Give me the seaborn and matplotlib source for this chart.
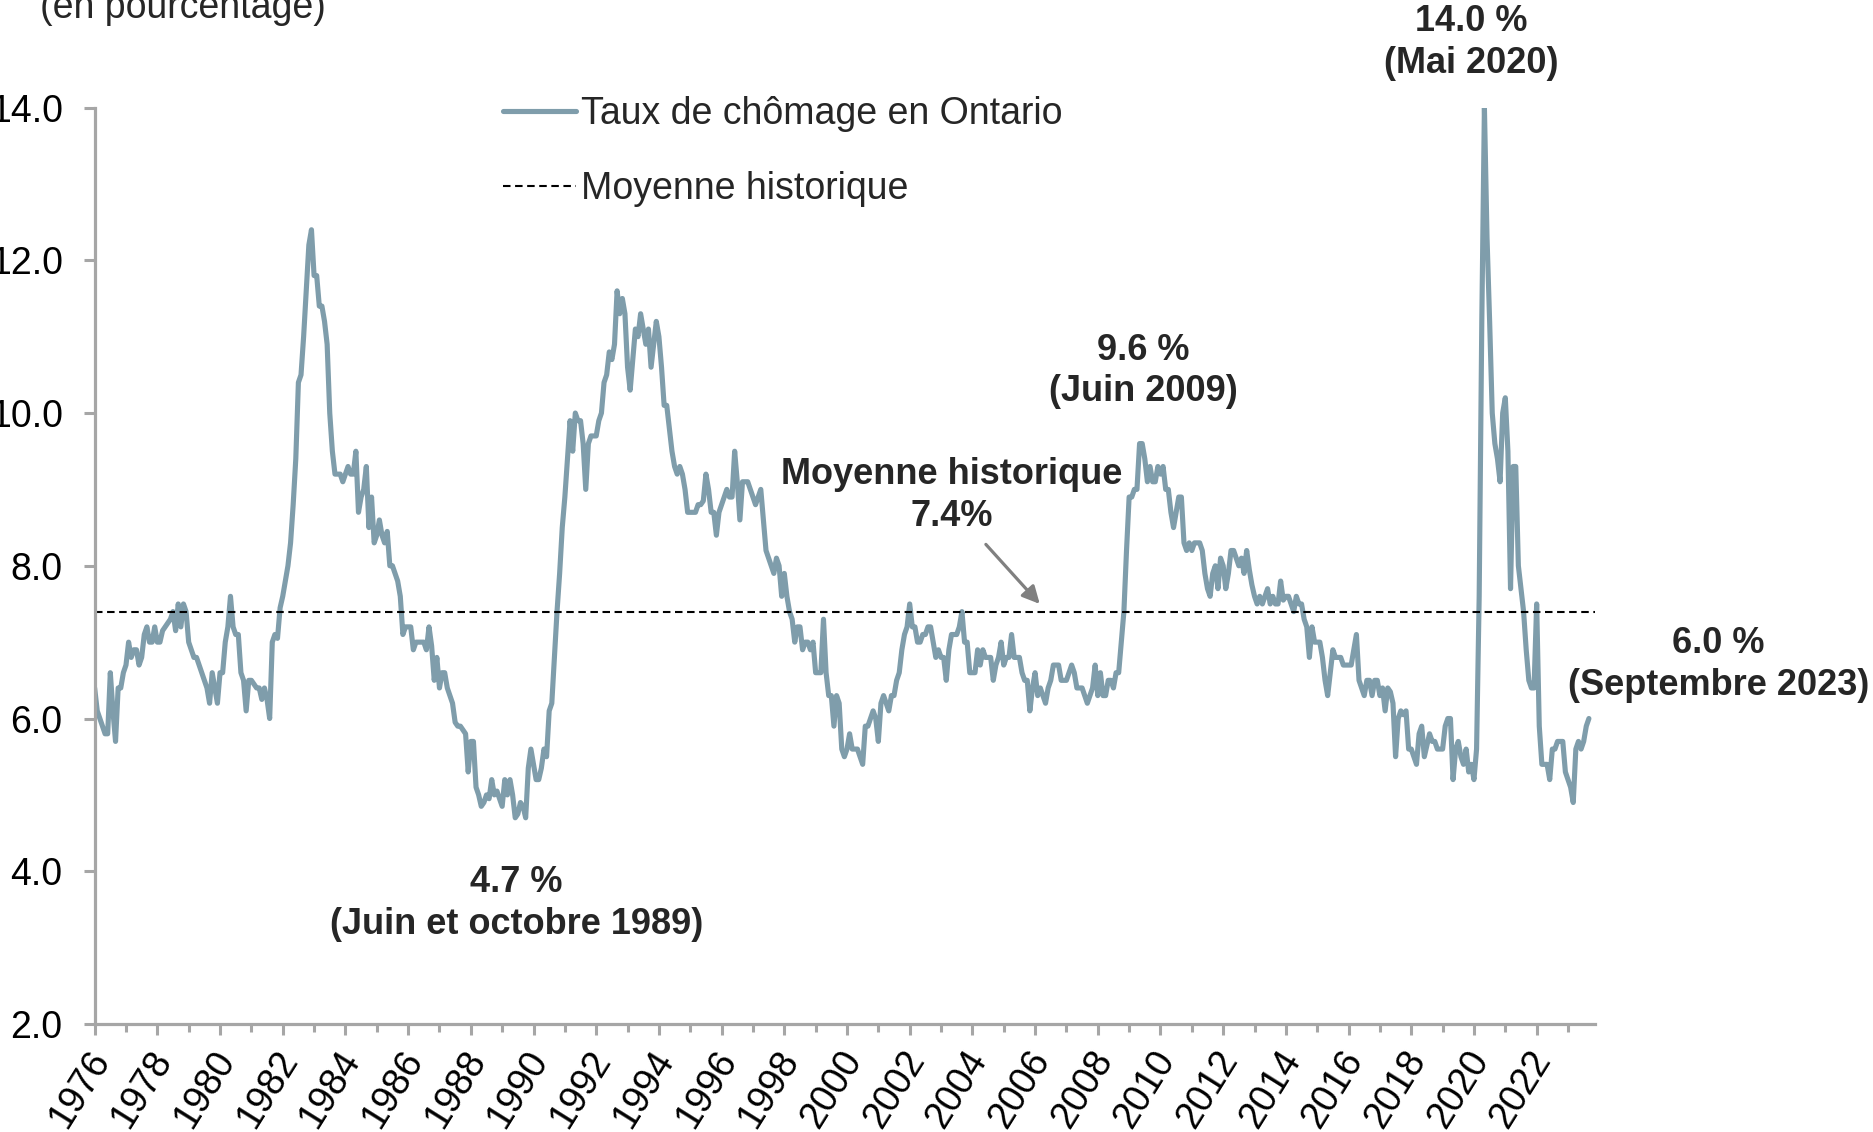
import numpy as np
import pandas as pd
import seaborn as sns
import matplotlib.pyplot as plt
from matplotlib.ticker import MultipleLocator, FormatStrFormatter
import matplotlib.transforms as mtransforms

sns.set_theme(style='ticks')
plt.rcParams['font.family'] = ['Liberation Sans', 'DejaVu Sans']

# taux de chômage mensuel en Ontario (%), janvier 1976 à septembre 2023
rates_1976_1985 = [
    6.4, 6.1, 6.0, 5.9, 5.8, 5.8, 6.6, 6.1, 5.7, 6.4, 6.4, 6.6,
    6.7, 7.0, 6.8, 6.9, 6.9, 6.7, 6.8, 7.1, 7.2, 7.0, 7.0, 7.2,
    7.0, 7.0, 7.15, 7.2, 7.25, 7.3, 7.4, 7.15, 7.5, 7.2, 7.5, 7.4,
    7.0, 6.9, 6.8, 6.8, 6.7, 6.6, 6.5, 6.4, 6.2, 6.6, 6.4, 6.2,
    6.6, 6.6, 7.0, 7.2, 7.6, 7.2, 7.1, 7.1, 6.6, 6.5, 6.1, 6.5,
    6.5, 6.45, 6.4, 6.4, 6.25, 6.4, 6.25, 6.0, 7.0, 7.1, 7.05, 7.45,
    7.6, 7.8, 8.0, 8.3, 8.8, 9.4, 10.4, 10.5, 11.0, 11.6, 12.2, 12.4,
    11.8, 11.8, 11.4, 11.4, 11.2, 10.9, 10.0, 9.5, 9.2, 9.2, 9.2, 9.1,
    9.2, 9.3, 9.2, 9.2, 9.5, 8.7, 8.9, 9.0, 9.3, 8.5, 8.9, 8.3,
    8.4, 8.6, 8.4, 8.3, 8.45, 8.0, 8.0, 7.9, 7.8, 7.6, 7.1, 7.2,
]
rates_1986_1995 = [
    7.2, 7.2, 6.9, 7.0, 7.0, 7.0, 7.0, 6.9, 7.2, 6.95, 6.5, 6.8,
    6.4, 6.6, 6.6, 6.4, 6.3, 6.2, 5.95, 5.9, 5.9, 5.85, 5.8, 5.3,
    5.7, 5.7, 5.1, 5.0, 4.85, 4.9, 5.0, 4.95, 5.2, 5.0, 5.05, 4.95,
    4.85, 5.2, 5.0, 5.2, 5.0, 4.7, 4.75, 4.9, 4.85, 4.7, 5.35, 5.6,
    5.4, 5.2, 5.2, 5.35, 5.6, 5.5, 6.1, 6.2, 6.8, 7.4, 7.9, 8.5,
    8.9, 9.4, 9.9, 9.5, 10.0, 9.9, 9.9, 9.6, 9.0, 9.6, 9.7, 9.7,
    9.7, 9.9, 10.0, 10.4, 10.5, 10.8, 10.7, 10.9, 11.6, 11.3, 11.5, 11.3,
    10.6, 10.3, 10.7, 11.1, 11.0, 11.3, 11.1, 10.9, 11.1, 10.6, 10.9, 11.2,
    11.0, 10.6, 10.1, 10.1, 9.8, 9.5, 9.3, 9.2, 9.3, 9.2, 9.0, 8.7,
    8.7, 8.7, 8.7, 8.8, 8.8, 8.85, 9.2, 9.0, 8.7, 8.7, 8.4, 8.7,
]
rates_1996_2005 = [
    8.8, 8.9, 9.0, 8.9, 8.9, 9.5, 9.1, 8.6, 9.1, 9.1, 9.1, 9.0,
    8.9, 8.8, 8.9, 9.0, 8.6, 8.2, 8.1, 8.0, 7.9, 8.1, 8.0, 7.6,
    7.9, 7.6, 7.4, 7.3, 7.0, 7.2, 7.2, 6.9, 7.0, 7.0, 6.9, 7.0,
    6.6, 6.6, 6.6, 7.3, 6.6, 6.3, 6.3, 5.9, 6.3, 6.2, 5.6, 5.5,
    5.6, 5.8, 5.6, 5.6, 5.6, 5.5, 5.4, 5.9, 5.9, 6.0, 6.1, 6.0,
    5.7, 6.2, 6.3, 6.2, 6.1, 6.3, 6.3, 6.5, 6.6, 6.9, 7.1, 7.2,
    7.5, 7.2, 7.2, 7.0, 7.0, 7.1, 7.1, 7.2, 7.2, 7.0, 6.8, 6.9,
    6.8, 6.8, 6.5, 6.9, 7.1, 7.1, 7.1, 7.2, 7.4, 7.0, 7.0, 6.6,
    6.6, 6.6, 6.9, 6.7, 6.9, 6.8, 6.8, 6.8, 6.5, 6.7, 6.8, 7.0,
    6.7, 6.8, 6.8, 7.1, 6.8, 6.8, 6.8, 6.6, 6.5, 6.5, 6.1, 6.4,
]
rates_2006_2015 = [
    6.6, 6.3, 6.4, 6.3, 6.2, 6.4, 6.5, 6.7, 6.7, 6.7, 6.5, 6.5,
    6.5, 6.6, 6.7, 6.6, 6.4, 6.4, 6.4, 6.3, 6.2, 6.3, 6.4, 6.7,
    6.3, 6.6, 6.3, 6.3, 6.5, 6.5, 6.4, 6.6, 6.6, 7.0, 7.4, 8.2,
    8.9, 8.9, 9.0, 9.0, 9.6, 9.6, 9.4, 9.1, 9.3, 9.1, 9.1, 9.3,
    9.2, 9.3, 9.0, 9.0, 8.7, 8.5, 8.7, 8.9, 8.9, 8.3, 8.2, 8.3,
    8.2, 8.3, 8.3, 8.3, 8.2, 7.9, 7.7, 7.6, 7.9, 8.0, 7.7, 8.1,
    8.0, 7.7, 7.9, 8.2, 8.2, 8.1, 8.0, 8.1, 7.9, 8.2, 7.95, 7.75,
    7.6, 7.5, 7.6, 7.5, 7.6, 7.7, 7.5, 7.6, 7.5, 7.5, 7.8, 7.55,
    7.6, 7.6, 7.5, 7.4, 7.6, 7.5, 7.5, 7.3, 7.2, 6.8, 7.2, 7.0,
    7.0, 7.0, 6.8, 6.5, 6.3, 6.6, 6.9, 6.8, 6.8, 6.8, 6.7, 6.7,
]
rates_2016_2023 = [
    6.7, 6.7, 6.9, 7.1, 6.5, 6.4, 6.3, 6.5, 6.5, 6.3, 6.5, 6.5,
    6.3, 6.4, 6.1, 6.4, 6.35, 6.2, 5.5, 6.0, 6.1, 6.05, 6.1, 5.6,
    5.6, 5.5, 5.4, 5.8, 5.9, 5.5, 5.65, 5.8, 5.7, 5.7, 5.6, 5.6,
    5.6, 5.9, 6.0, 6.0, 5.2, 5.6, 5.7, 5.5, 5.4, 5.6, 5.3, 5.4,
    5.2, 5.6, 7.6, 11.2, 14.0, 12.3, 11.2, 10.0, 9.6, 9.4, 9.1, 10.0,
    10.2, 9.5, 7.7, 9.3, 9.3, 8.0, 7.7, 7.4, 6.9, 6.5, 6.4, 6.4,
    7.5, 5.9, 5.4, 5.4, 5.4, 5.2, 5.6, 5.6, 5.7, 5.7, 5.7, 5.3,
    5.2, 5.1, 4.9, 5.6, 5.7, 5.6, 5.7, 5.9, 6.0,
]
start_year = 1976
average_rate = 7.4

series_label = 'Taux de chômage en Ontario'
average_label = 'Moyenne historique'
unit_label = '(en pourcentage)'

note_texts = ['14.0 %\n(Mai 2020)', '9.6 %\n(Juin 2009)', 'Moyenne historique\n7.4%',
              '4.7 %\n(Juin et octobre 1989)', '6.0 %\n(Septembre 2023)']
note_x = [2019.9, 2009.45, 2003.35, 1989.45, 2027.8]
note_y = [14.85, 10.55, 8.92, 3.58, 6.71]

rates = rates_1976_1985 + rates_1986_1995 + rates_1996_2005 + rates_2006_2015 + rates_2016_2023
df = pd.DataFrame({'annee': start_year + np.arange(len(rates)) / 12, 'taux': rates})

line_color = '#7f9dab'
axis_gray = '#a6a6a6'

fig = plt.figure(figsize=(18.74, 11.32), dpi=100)
ax = fig.add_axes([0.0505, 0.0954, 0.8006, 0.8096])

sns.lineplot(data=df, x='annee', y='taux', ax=ax, color=line_color, linewidth=3.7,
             label=series_label, solid_joinstyle='round', solid_capstyle='round')
ax.axhline(average_rate, color='black', linewidth=1.5, linestyle=(0, (3.6, 2.2)),
           label=average_label)

ax.set_xlim(start_year, 2023.86)
ax.set_ylim(2, 14)
ax.set_xlabel('')
ax.set_ylabel('')

sns.despine(ax=ax)
for side in ['left', 'bottom']:
    ax.spines[side].set_color(axis_gray)
    ax.spines[side].set_linewidth(2.3)

ax.yaxis.set_major_locator(MultipleLocator(2))
ax.yaxis.set_major_formatter(FormatStrFormatter('%.1f'))
ax.xaxis.set_major_locator(MultipleLocator(2))
ax.xaxis.set_minor_locator(MultipleLocator(1))
ax.xaxis.set_major_formatter(FormatStrFormatter('%d'))

ax.tick_params(axis='y', length=8, width=2.2, color=axis_gray, labelsize=27, pad=15,
               labelcolor='black')
ax.tick_params(axis='x', which='major', length=8, width=2.2, color=axis_gray,
               labelsize=27, pad=7, labelcolor='black')
ax.tick_params(axis='x', which='minor', length=5.5, width=2.2, color=axis_gray)

for lbl in ax.get_yticklabels():
    lbl.set_fontfamily(['Liberation Sans Narrow', 'Liberation Sans', 'DejaVu Sans'])
shift = mtransforms.ScaledTranslation(22 / 100, 0, fig.dpi_scale_trans)
for lbl in ax.get_xticklabels():
    lbl.set_rotation(58)
    lbl.set_ha('right')
    lbl.set_va('top')
    lbl.set_transform(lbl.get_transform() + shift)

ax.legend(loc='upper left', bbox_to_anchor=(0.2685, 0.9155), bbox_transform=fig.transFigure,
          frameon=False, fontsize=27, handlelength=1.95, handletextpad=0.12,
          labelspacing=1.05, borderpad=0, borderaxespad=0)

for txt, tx, ty in zip(note_texts, note_x, note_y):
    ax.text(tx, ty, txt, ha='center', va='center', fontsize=26, fontweight='bold',
            linespacing=1.24, clip_on=False)

ax.annotate('', xy=(2006.15, 7.5), xytext=(2004.43, 8.28),
            arrowprops=dict(arrowstyle='-|>', color='#808080', lw=2.3, mutation_scale=26,
                            shrinkA=0, shrinkB=0))

fig.text(0.0213, 0.9841, unit_label, ha='left', va='baseline', fontsize=27)

fig.savefig('out.png', dpi=100)
